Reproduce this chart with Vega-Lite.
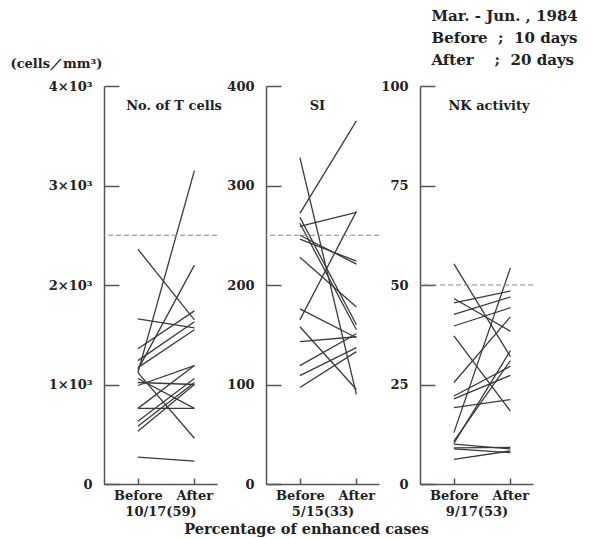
{
  "$schema": "https://vega.github.io/schema/vega-lite/v6.json",
  "padding": {"left": 10, "top": 8, "right": 5, "bottom": 2},
  "title": {"text": "Percentage of enhanced cases", "orient": "bottom", "anchor": "middle", "offset": 5, "dx": 13, "fontSize": 14.5},
  "datasets": {
    "tcells": [
      {"id": 1, "phase": 0, "v": 2.36}, {"id": 1, "phase": 1, "v": 1.65},
      {"id": 2, "phase": 0, "v": 1.66}, {"id": 2, "phase": 1, "v": 1.57},
      {"id": 3, "phase": 0, "v": 1.12}, {"id": 3, "phase": 1, "v": 3.15},
      {"id": 4, "phase": 0, "v": 1.15}, {"id": 4, "phase": 1, "v": 2.2},
      {"id": 5, "phase": 0, "v": 1.36}, {"id": 5, "phase": 1, "v": 1.74},
      {"id": 6, "phase": 0, "v": 1.24}, {"id": 6, "phase": 1, "v": 1.63},
      {"id": 7, "phase": 0, "v": 1.17}, {"id": 7, "phase": 1, "v": 1.55},
      {"id": 8, "phase": 0, "v": 1.12}, {"id": 8, "phase": 1, "v": 0.46},
      {"id": 9, "phase": 0, "v": 1.06}, {"id": 9, "phase": 1, "v": 0.76},
      {"id": 10, "phase": 0, "v": 0.99}, {"id": 10, "phase": 1, "v": 1.19},
      {"id": 11, "phase": 0, "v": 1.02}, {"id": 11, "phase": 1, "v": 1.0},
      {"id": 12, "phase": 0, "v": 0.76}, {"id": 12, "phase": 1, "v": 0.76},
      {"id": 13, "phase": 0, "v": 0.76}, {"id": 13, "phase": 1, "v": 1.19},
      {"id": 14, "phase": 0, "v": 0.63}, {"id": 14, "phase": 1, "v": 1.06},
      {"id": 15, "phase": 0, "v": 0.58}, {"id": 15, "phase": 1, "v": 1.02},
      {"id": 16, "phase": 0, "v": 0.53}, {"id": 16, "phase": 1, "v": 1.0},
      {"id": 17, "phase": 0, "v": 0.27}, {"id": 17, "phase": 1, "v": 0.23}
    ],
    "si": [
      {"id": 1, "phase": 0, "v": 328}, {"id": 1, "phase": 1, "v": 90},
      {"id": 2, "phase": 0, "v": 272}, {"id": 2, "phase": 1, "v": 365},
      {"id": 3, "phase": 0, "v": 268}, {"id": 3, "phase": 1, "v": 160},
      {"id": 4, "phase": 0, "v": 262}, {"id": 4, "phase": 1, "v": 155},
      {"id": 5, "phase": 0, "v": 259}, {"id": 5, "phase": 1, "v": 273},
      {"id": 6, "phase": 0, "v": 250}, {"id": 6, "phase": 1, "v": 221},
      {"id": 7, "phase": 0, "v": 246}, {"id": 7, "phase": 1, "v": 224},
      {"id": 8, "phase": 0, "v": 228}, {"id": 8, "phase": 1, "v": 178},
      {"id": 9, "phase": 0, "v": 176}, {"id": 9, "phase": 1, "v": 147},
      {"id": 10, "phase": 0, "v": 165}, {"id": 10, "phase": 1, "v": 274},
      {"id": 11, "phase": 0, "v": 158}, {"id": 11, "phase": 1, "v": 95},
      {"id": 12, "phase": 0, "v": 143}, {"id": 12, "phase": 1, "v": 148},
      {"id": 13, "phase": 0, "v": 119}, {"id": 13, "phase": 1, "v": 151},
      {"id": 14, "phase": 0, "v": 109}, {"id": 14, "phase": 1, "v": 137},
      {"id": 15, "phase": 0, "v": 97}, {"id": 15, "phase": 1, "v": 133}
    ],
    "nk": [
      {"id": 1, "phase": 0, "v": 55.3}, {"id": 1, "phase": 1, "v": 32},
      {"id": 2, "phase": 0, "v": 46.6}, {"id": 2, "phase": 1, "v": 38.4},
      {"id": 3, "phase": 0, "v": 45.5}, {"id": 3, "phase": 1, "v": 48.5},
      {"id": 4, "phase": 0, "v": 42.6}, {"id": 4, "phase": 1, "v": 47.0},
      {"id": 5, "phase": 0, "v": 39.7}, {"id": 5, "phase": 1, "v": 44.3},
      {"id": 6, "phase": 0, "v": 37.2}, {"id": 6, "phase": 1, "v": 18.3},
      {"id": 7, "phase": 0, "v": 25.5}, {"id": 7, "phase": 1, "v": 42},
      {"id": 8, "phase": 0, "v": 22.1}, {"id": 8, "phase": 1, "v": 29.6},
      {"id": 9, "phase": 0, "v": 21.4}, {"id": 9, "phase": 1, "v": 27.3},
      {"id": 10, "phase": 0, "v": 19.2}, {"id": 10, "phase": 1, "v": 21.2},
      {"id": 11, "phase": 0, "v": 12.9}, {"id": 11, "phase": 1, "v": 54.3},
      {"id": 12, "phase": 0, "v": 10.8}, {"id": 12, "phase": 1, "v": 31},
      {"id": 13, "phase": 0, "v": 10.2}, {"id": 13, "phase": 1, "v": 33.5},
      {"id": 14, "phase": 0, "v": 10.0}, {"id": 14, "phase": 1, "v": 8.8},
      {"id": 15, "phase": 0, "v": 9.1}, {"id": 15, "phase": 1, "v": 9.2},
      {"id": 16, "phase": 0, "v": 8.8}, {"id": 16, "phase": 1, "v": 7.9},
      {"id": 17, "phase": 0, "v": 6.2}, {"id": 17, "phase": 1, "v": 8.3}
    ]
  },
  "config": {
    "view": {"stroke": null},
    "axis": {"grid": false, "domainColor": "#555", "domainWidth": 1.5, "tickColor": "#555", "tickWidth": 1.5,
      "labelFont": "DejaVu Serif", "labelFontWeight": "bold", "labelFontSize": 13, "labelColor": "#222",
      "titleFont": "DejaVu Serif", "titleFontWeight": "bold", "titleFontSize": 13, "titleColor": "#222"},
    "title": {"font": "DejaVu Serif", "fontWeight": "bold", "fontSize": 13, "color": "#222"},
    "text": {"font": "DejaVu Serif", "fontWeight": "bold", "fontSize": 13, "color": "#222", "baseline": "middle"}
  },
  "spacing": 4,
  "hconcat": [
    {
      "width": 113, "height": 398,
      "layer": [
        {"data": {"name": "tcells"}, "mark": {"type": "line", "color": "#3a3a3a", "strokeWidth": 1.3},
          "encoding": {
            "x": {"field": "phase", "type": "quantitative", "scale": {"domain": [-0.41, 1.22]},
              "axis": {"values": [0, 1], "labelExpr": "datum.value == 0 ? 'Before' : 'After'", "tickSize": -6, "labelPadding": 11, "labelFlush": false, "labelOverlap": false, "title": "10/17(59)", "titlePadding": 3}},
            "y": {"field": "v", "type": "quantitative", "scale": {"domain": [0, 4], "nice": false},
              "axis": {"values": [0, 1, 2, 3, 4], "labelExpr": "datum.value == 0 ? '0' : datum.value + '×10³'", "tickSize": -15, "labelPadding": 27,
                "title": "(cells／mm³)", "titleAngle": 0, "titleAlign": "left", "titleBaseline": "middle", "titleX": -94, "titleY": -23}},
            "detail": {"field": "id"}
          }},
        {"data": {"values": [{"ref": 2.5}]}, "mark": {"type": "rule", "color": "#888", "strokeDash": [5, 3], "strokeWidth": 1.2},
          "encoding": {"y": {"field": "ref", "type": "quantitative"}}},
        {"data": {"values": [{"label": "No. of T cells"}]}, "mark": {"type": "text", "align": "left"},
          "encoding": {"x": {"datum": -0.208}, "y": {"datum": 3.8}, "text": {"field": "label"}}}
      ]
    },
    {
      "spacing": 0,
      "hconcat": [
        {
          "width": 113, "height": 398,
          "layer": [
            {"data": {"name": "si"}, "mark": {"type": "line", "color": "#3a3a3a", "strokeWidth": 1.3},
              "encoding": {
                "x": {"field": "phase", "type": "quantitative", "scale": {"domain": [-0.41, 1.22]},
                  "axis": {"values": [0, 1], "labelExpr": "datum.value == 0 ? 'Before' : 'After'", "tickSize": -6, "labelPadding": 11, "labelFlush": false, "labelOverlap": false, "title": "5/15(33)", "titlePadding": 3}},
                "y": {"field": "v", "type": "quantitative", "scale": {"domain": [0, 400], "nice": false},
                  "axis": {"values": [0, 100, 200, 300, 400], "tickSize": -15, "labelPadding": 27, "title": null}},
                "detail": {"field": "id"}
              }},
            {"data": {"values": [{"ref": 250}]}, "mark": {"type": "rule", "color": "#888", "strokeDash": [5, 3], "strokeWidth": 1.2},
              "encoding": {"y": {"field": "ref", "type": "quantitative"}}},
            {"data": {"values": [{"label": "SI"}]}, "mark": {"type": "text", "align": "center"},
              "encoding": {"x": {"datum": 0.31}, "y": {"datum": 380}, "text": {"field": "label"}}}
          ]
        },
        {
          "width": 113, "height": 398,
          "layer": [
            {"data": {"name": "nk"}, "mark": {"type": "line", "color": "#3a3a3a", "strokeWidth": 1.3},
              "encoding": {
                "x": {"field": "phase", "type": "quantitative", "scale": {"domain": [-0.41, 1.22]},
                  "axis": {"values": [0, 1], "labelExpr": "datum.value == 0 ? 'Before' : 'After'", "tickSize": -6, "labelPadding": 11, "labelFlush": false, "labelOverlap": false, "title": "9/17(53)", "titlePadding": 3}},
                "y": {"field": "v", "type": "quantitative", "scale": {"domain": [0, 100], "nice": false},
                  "axis": {"values": [0, 25, 50, 75, 100], "tickSize": -15, "labelPadding": 27,
                    "title": ["Mar. - Jun. , 1984", "Before\u00a0\u00a0;\u00a0\u00a010 days", "After\u00a0\u00a0\u00a0\u00a0;\u00a0\u00a020 days"], "titleAngle": 0, "titleAlign": "left", "titleBaseline": "middle", "titleX": 11, "titleY": -71, "titleLineHeight": 22, "titleFontSize": 15}},
                "detail": {"field": "id"}
              }},
            {"data": {"values": [{"ref": 50}]}, "mark": {"type": "rule", "color": "#888", "strokeDash": [5, 3], "strokeWidth": 1.2},
              "encoding": {"y": {"field": "ref", "type": "quantitative"}}},
            {"data": {"values": [{"label": "NK activity"}]}, "mark": {"type": "text", "align": "left"},
              "encoding": {"x": {"datum": -0.097}, "y": {"datum": 95}, "text": {"field": "label"}}}
          ]
        }
      ]
    }
  ]
}
